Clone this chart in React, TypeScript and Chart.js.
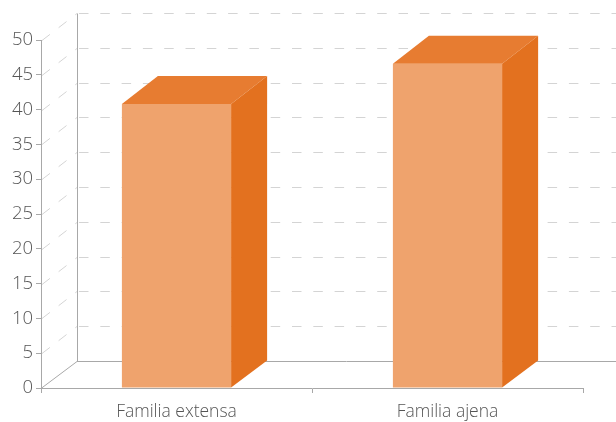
import React, { useEffect, useRef } from "react";
import { Chart, registerables } from "chart.js";

Chart.register(...registerables);

const categories = ["Familia extensa", "Familia ajena"];
const values = [40.8, 46.6];
const yMin = 0;
const yMax = 50;
const yStep = 5;

const FRONT = "#EFA36D";
const TOP = "#E77C31";
const SIDE = "#E3711F";
const AXIS = "#A8A8A8";
const GRID = "#D4D4D4";
const TEXT = "#555555";
const DX = 36;
const DY = 27;

const threeD = {
  id: "threeD",
  beforeDatasetsDraw(chart: any) {
    const { ctx, chartArea, scales } = chart;
    const y = scales.y;
    ctx.save();
    ctx.lineWidth = 1;
    const wallX = chartArea.left + DX;
    const far = chart.width;
    y.ticks.forEach((t: any) => {
      const py = Math.round(y.getPixelForValue(t.value)) + 0.5;
      const solid = t.value === yMin;
      ctx.strokeStyle = solid ? AXIS : GRID;
      ctx.setLineDash(solid ? [] : [9.5, 11.8]);
      ctx.beginPath();
      ctx.moveTo(solid ? wallX : wallX + 2, py - DY);
      ctx.lineTo(far, py - DY);
      ctx.stroke();
      ctx.setLineDash(solid ? [] : [10, 11]);
      ctx.beginPath();
      ctx.moveTo(chartArea.left + (solid ? 0 : 1), py);
      ctx.lineTo(wallX, py - DY);
      ctx.stroke();
    });
    ctx.setLineDash([]);
    ctx.strokeStyle = AXIS;
    ctx.beginPath();
    const topY = Math.round(y.getPixelForValue(yMax)) + 0.5 - DY;
    const botY = Math.round(y.getPixelForValue(yMin)) + 0.5 - DY;
    ctx.moveTo(wallX + 0.5, topY);
    ctx.lineTo(wallX + 0.5, botY);
    ctx.stroke();
    ctx.restore();
  },
  afterDatasetsDraw(chart: any) {
    const { ctx } = chart;
    const meta = chart.getDatasetMeta(0);
    ctx.save();
    meta.data.forEach((bar: any) => {
      const x1 = bar.x - bar.width / 2;
      const x2 = bar.x + bar.width / 2;
      const yt = bar.y;
      const yb = bar.base;
      ctx.fillStyle = TOP;
      ctx.beginPath();
      ctx.moveTo(x1, yt);
      ctx.lineTo(x2, yt);
      ctx.lineTo(x2 + DX, yt - DY - 1);
      ctx.lineTo(x1 + DX, yt - DY - 1);
      ctx.closePath();
      ctx.fill();
      ctx.fillStyle = SIDE;
      ctx.beginPath();
      ctx.moveTo(x2, yt);
      ctx.lineTo(x2 + DX, yt - DY - 1);
      ctx.lineTo(x2 + DX, yb - DY);
      ctx.lineTo(x2, yb);
      ctx.closePath();
      ctx.fill();
    });
    ctx.restore();
  },
};

export default function App() {
  const ref = useRef<HTMLCanvasElement>(null);
  useEffect(() => {
    if (!ref.current) return;
    const chart = new Chart(ref.current, {
      type: "bar",
      data: {
        labels: categories,
        datasets: [
          {
            data: values,
            backgroundColor: FRONT,
            borderWidth: 0,
            barPercentage: 0.403,
            categoryPercentage: 1,
          },
        ],
      },
      options: {
        responsive: false,
        animation: false,
        layout: { padding: { top: 40, right: 33, left: 0, bottom: 0 } },
        plugins: { legend: { display: false }, tooltip: { enabled: false } },
        scales: {
          x: {
            offset: true,
            grid: {
              offset: true,
              drawOnChartArea: false,
              drawTicks: true,
              tickLength: 5,
              color: AXIS,
            },
            border: { display: true, color: AXIS },
            ticks: {
              color: TEXT,
              padding: 9,
              font: { family: "Open Sans", size: 17.5, weight: "300" as any },
            },
            afterFit: (s: any) => {
              s.height = 34;
            },
          },
          y: {
            min: yMin,
            max: yMax,
            grid: {
              drawOnChartArea: false,
              drawTicks: true,
              tickLength: 5,
              color: AXIS,
            },
            border: { display: true, color: AXIS },
            ticks: {
              stepSize: yStep,
              color: TEXT,
              padding: 3,
              font: { family: "Open Sans", size: 18.5, weight: "300" as any },
            },
            afterFit: (s: any) => {
              s.width = 41;
            },
          },
        },
      },
      plugins: [threeD],
    });
    return () => chart.destroy();
  }, []);
  return (
    <div style={{ position: "absolute", left: 0, top: 0, width: 616, height: 422 }}>
      <canvas ref={ref} width={616} height={422} />
    </div>
  );
}
